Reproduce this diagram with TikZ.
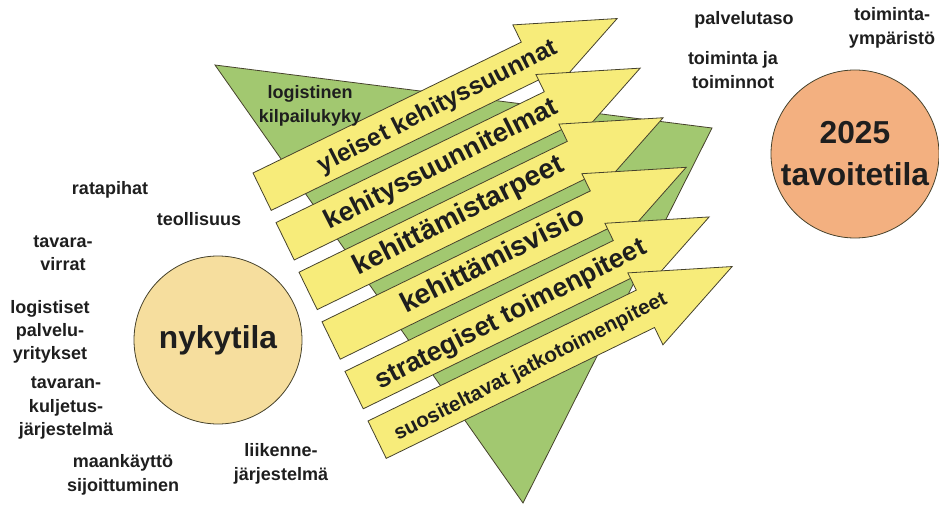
\documentclass[tikz,border=0pt]{standalone}
\usepackage{fontspec}
\setmainfont{Liberation Sans}
\definecolor{arrowyellow}{RGB}{247,236,122}
\definecolor{leafgreen}{RGB}{162,200,112}
\definecolor{nowtan}{RGB}{246,222,158}
\definecolor{goalsalmon}{RGB}{243,176,128}
\definecolor{inkline}{RGB}{70,66,44}
\definecolor{inktext}{RGB}{30,30,30}

\begin{document}
\begin{tikzpicture}[x=0.75pt,y=-0.75pt,line join=miter,
  arrowbody/.style={fill=arrowyellow,draw=inkline,line width=0.6pt},
  arrowtext/.style={text=inktext,rotate=27,inner sep=0pt},
  sidelabel/.style={font=\bfseries\fontsize{13.5}{17.5}\selectfont,text=inktext,align=center,inner sep=0pt},
  statecircle/.style={circle,draw=inkline,line width=0.6pt,minimum size=126pt,inner sep=0pt,
    text=inktext,align=center,font=\bfseries\fontsize{23.8}{31.5}\selectfont}]
\useasboundingbox (0,0) rectangle (939,506);
% ---------- one tilted arrow: #1 row, #2/#3 text position, #4 font size, #5 text ----------
\newcommand{\devarrow}[5]{%
  \begin{scope}[shift={(253+23*#1,173+49.6*#1)},rotate=26]
    \draw[arrowbody] (0,0) -- (298.5,0) -- (298.5,-19.2) -- (395,20.8)
      -- (298.5,60.8) -- (298.5,41.6) -- (0,41.6) -- cycle;
    \node[arrowtext,font=\bfseries\fontsize{#4}{#4}\selectfont] (dir#1) at (#2,#3) {#5};
  \end{scope}
}
% ---------- green triangle behind the arrows ----------
\draw[fill=leafgreen,draw=inkline,line width=0.6pt] (215,65) -- (712,128) -- (523,503) -- cycle;
% ---------- arrows, top to bottom ----------
\devarrow{0}{195}{22}{18.5}{yleiset kehityssuunnat}
\devarrow{1}{174}{21}{20}{kehityssuunnitelmat}
\devarrow{2}{168}{20}{21}{kehittämistarpeet}
\devarrow{3}{180}{18}{21}{kehittämisvisio}
\devarrow{4}{174}{22}{20}{strategiset toimenpiteet}
\devarrow{5}{170}{23}{15.5}{suositeltavat jatkotoimenpiteet}
% ---------- present and target state ----------
\node[statecircle,fill=nowtan] (nykytila) at (218,340) {nykytila};
\node[statecircle,fill=goalsalmon] (tavoite) at (855,154) {2025\\tavoitetila};
% ---------- surrounding labels ----------
\node[sidelabel] (ratapihat) at (110,190) {ratapihat};
\node[sidelabel] (teollisuus) at (199,219) {teollisuus};
\node[sidelabel] (virrat) at (63,253) {tavara-\\virrat};
\node[sidelabel] (palveluyr) at (50,332) {logistiset\\palvelu-\\yritykset};
\node[sidelabel] (kuljetus) at (66,408) {tavaran-\\kuljetus-\\järjestelmä};
\node[sidelabel] (maankaytto) at (123,475) {maankäyttö\\sijoittuminen};
\node[sidelabel] (liikenne) at (281,464) {liikenne-\\järjestelmä};
\node[sidelabel] (kilpailu) at (310,106) {logistinen\\kilpailukyky};
\node[sidelabel] (palvelutaso) at (744,20) {palvelutaso};
\node[sidelabel] (ymparisto) at (892,28) {toiminta-\\ympäristö};
\node[sidelabel] (toiminnot) at (733,70) {toiminta ja\\toiminnot};
\end{tikzpicture}
\end{document}
